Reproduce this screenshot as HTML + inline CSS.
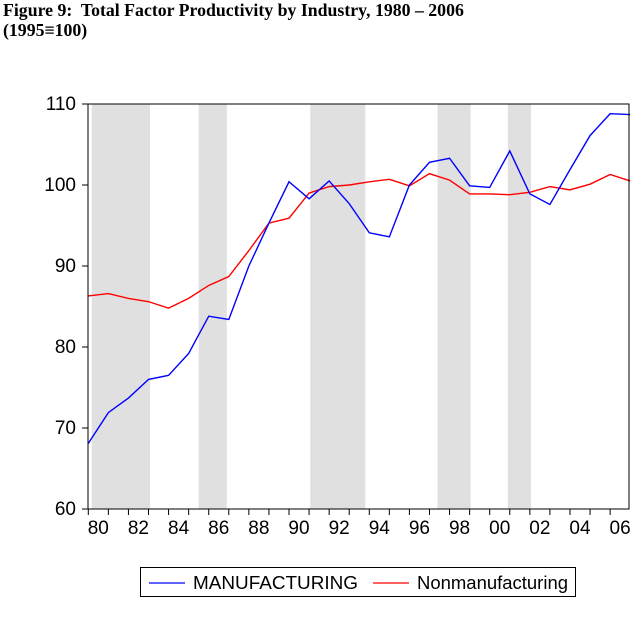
<!DOCTYPE html>
<html><head><meta charset="utf-8"><style>
html,body{margin:0;padding:0;background:#fff;}
body{width:638px;height:617px;overflow:hidden;position:relative;}
.t{position:absolute;left:3px;font:bold 17.8px "Liberation Serif",serif;color:#000;white-space:nowrap;}
</style></head><body>
<div class="t" style="top:0px;">Figure 9:&nbsp; Total Factor Productivity by Industry, 1980 – 2006</div>
<div class="t" style="top:20px;">(1995≡100)</div>
<svg id="c" width="638" height="617" style="position:absolute;left:0;top:0"></svg>
<script>
const years=[1980,1981,1982,1983,1984,1985,1986,1987,1988,1989,1990,1991,1992,1993,1994,1995,1996,1997,1998,1999,2000,2001,2002,2003,2004,2005,2006,2007];
const manufacturing=[68.1,71.9,73.7,76.0,76.5,79.2,83.8,83.4,90.0,95.3,100.4,98.3,100.5,97.7,94.1,93.6,100.0,102.8,103.3,99.9,99.7,104.2,98.9,97.6,101.9,106.1,108.8,108.7];
const nonmanufacturing=[86.3,86.6,86.0,85.6,84.8,86.0,87.6,88.7,91.9,95.3,95.9,99.0,99.8,100.0,100.4,100.7,99.9,101.4,100.6,98.9,98.9,98.8,99.1,99.8,99.4,100.1,101.3,100.5];
const shadeStart=[1980.17,1985.5,1991.06,1997.4,2000.9];
const shadeEnd=[1983.08,1986.9,1993.8,1999.05,2002.06];
const yTicks=[60,70,80,90,100,110];
const xTickLabels=["80","82","84","86","88","90","92","94","96","98","00","02","04","06"];

const L=88,R=629,T=104,B=509;
const X=y=>88.3+(y-1980)*20.07;
const Y=v=>B-(v-60)*(B-T)/50;
const svg=document.getElementById('c');
const NS='http://www.w3.org/2000/svg';
function mk(tag,attrs,parent){const e=document.createElementNS(NS,tag);for(const k in attrs)e.setAttribute(k,attrs[k]);(parent||svg).appendChild(e);return e;}

shadeStart.forEach((s,i)=>{
  const r=mk('rect',{x:X(s),y:T,width:X(shadeEnd[i])-X(s),height:B-T,fill:'#e0e0e0'});
  
  
});
function line(vals,color,name){
  const p=mk('polyline',{points:vals.map((v,i)=>X(years[i])+','+Y(v)).join(' '),fill:'none',stroke:color,'stroke-width':1.4});
  
  
}
line(nonmanufacturing,'#ff0000','nonmanufacturing-line');
line(manufacturing,'#0000ff','manufacturing-line');
const fr=mk('rect',{x:L,y:T,width:R-L,height:B-T,fill:'none',stroke:'#000','stroke-width':1});


yTicks.forEach(v=>{
  mk('line',{x1:L-6,x2:L,y1:Y(v),y2:Y(v),stroke:'#000'});
  const t=mk('text',{x:76,y:Y(v)+6,'text-anchor':'end','font-family':'Liberation Sans, sans-serif','font-size':19});
  t.textContent=v;
  
  
});
for(let y=1980;y<=2006;y++){
  mk('line',{x1:X(y),x2:X(y),y1:B,y2:B+6,stroke:'#000'});
}
xTickLabels.forEach((lab,i)=>{
  const t=mk('text',{x:X(1980+2*i)+10,y:534,'text-anchor':'middle','font-family':'Liberation Sans, sans-serif','font-size':19});
  t.textContent=lab;
  
  
});
const lg=mk('g',{});


mk('rect',{x:140.5,y:567.5,width:435,height:29,fill:'#fff',stroke:'#000'},lg);
mk('line',{x1:149,x2:185,y1:583,y2:583,stroke:'#0000ff','stroke-width':1.2},lg);
mk('line',{x1:373,x2:409,y1:583,y2:583,stroke:'#ff0000','stroke-width':1.2},lg);
const t1=mk('text',{x:193,y:589,'font-family':'Liberation Sans, sans-serif','font-size':18.9,textLength:165,lengthAdjust:'spacingAndGlyphs'},lg);
t1.textContent='MANUFACTURING';


const t2=mk('text',{x:417,y:589,'font-family':'Liberation Sans, sans-serif','font-size':18.6,textLength:151,lengthAdjust:'spacingAndGlyphs'},lg);
t2.textContent='Nonmanufacturing';


</script>
</body></html>
